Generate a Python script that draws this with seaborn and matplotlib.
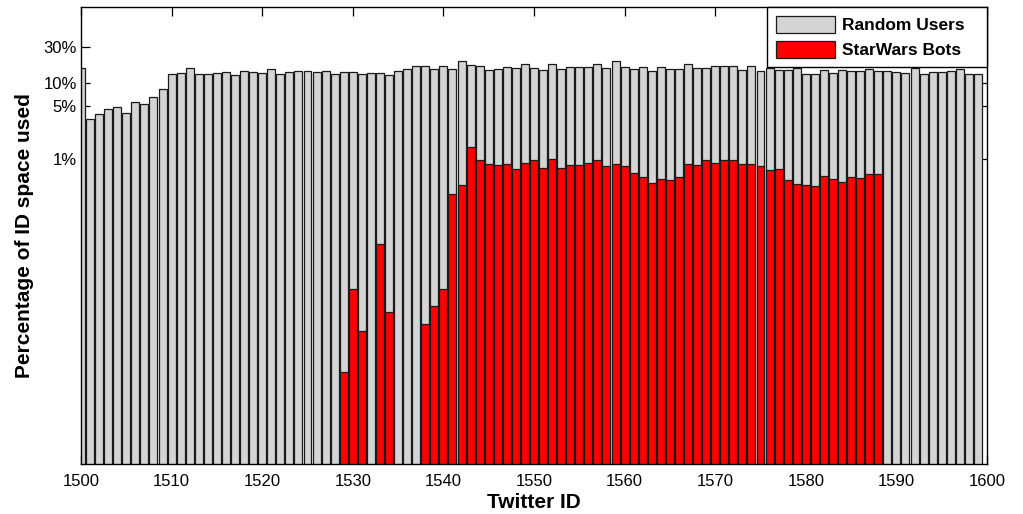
import pandas as pd
import seaborn as sns
import matplotlib
matplotlib.use('Agg')
import matplotlib.pyplot as plt
from matplotlib.patches import Patch
from matplotlib.ticker import FixedLocator, NullLocator

# Twitter ID buckets and percentage of each ID space in use
twitter_ids = list(range(1500, 1600))
random_users = [
    15.6, 3.35, 3.93, 4.53, 4.90, 4.09, 5.60, 5.37, 6.51, 8.37,
    13.0, 13.4, 15.6, 13.0, 13.0, 13.6, 13.9, 12.7, 14.5, 13.9,
    13.6, 15.2, 13.3, 14.0, 14.3, 14.4, 13.9, 14.4, 13.0, 13.9,
    13.9, 13.0, 13.8, 13.6, 12.9, 14.6, 15.5, 16.6, 16.6, 15.2,
    16.9, 15.2, 19.3, 17.5, 17.0, 14.9, 15.2, 16.3, 15.8, 17.7,
    15.8, 14.9, 18.0, 15.5, 16.4, 16.4, 16.4, 18.0, 15.9, 19.7,
    16.4, 15.5, 16.4, 14.3, 16.1, 15.5, 15.5, 17.8, 15.6, 15.9,
    16.9, 16.9, 16.6, 14.9, 16.9, 14.4, 15.9, 14.9, 14.9, 15.9,
    13.0, 13.3, 14.7, 13.7, 15.0, 14.5, 14.5, 15.3, 14.5, 14.5,
    14.0, 13.6, 15.8, 13.0, 13.9, 13.9, 14.5, 15.3, 13.0, 13.0,
]

starwars_ids = list(range(1529, 1589))
starwars_bots = [
    0.00163, 0.0197, 0.0055, 0, 0.0769, 0.00997, 0, 0, 0, 0.00694,
    0.0118, 0.0196, 0.348, 0.466, 1.46, 0.98, 0.876, 0.85, 0.86, 0.739,
    0.886, 0.98, 0.78, 1.0, 0.769, 0.85, 0.85, 0.902, 0.98, 0.81,
    0.86, 0.817, 0.655, 0.58, 0.484, 0.547, 0.535, 0.58, 0.87, 0.834,
    0.97, 0.894, 0.97, 0.97, 0.87, 0.87, 0.81, 0.73, 0.74, 0.53,
    0.47, 0.464, 0.446, 0.609, 0.547, 0.499, 0.591, 0.568, 0.636, 0.647,
]

y_ticks = [1, 5, 10, 30]
y_tick_labels = ['1%', '5%', '10%', '30%']
x_ticks = list(range(1500, 1601, 10))

gray = '#d4d4d4'
red = '#ff0000'
edge = '#1a1a1a'

sns.set_style('white')
plt.rcParams['font.family'] = ['Liberation Sans', 'DejaVu Sans']
plt.rcParams['text.color'] = 'black'
plt.rcParams['axes.labelcolor'] = 'black'
plt.rcParams['xtick.color'] = 'black'
plt.rcParams['ytick.color'] = 'black'

df_users = pd.DataFrame({'id': twitter_ids, 'pct': random_users})
df_bots = pd.DataFrame({'id': starwars_ids, 'pct': starwars_bots})
df_bots = df_bots[df_bots['pct'] > 0]

fig = plt.figure(figsize=(10.23, 5.14), dpi=100)
ax = fig.add_axes([81 / 1023, 50 / 514, 906 / 1023, 457 / 514])
ax.set_yscale('log')

sns.barplot(data=df_users, x='id', y='pct', native_scale=True, width=0.88,
            color=gray, saturation=1, edgecolor=edge, linewidth=0.9,
            errorbar=None, ax=ax)
sns.barplot(data=df_bots, x='id', y='pct', native_scale=True, width=0.88,
            color=red, saturation=1, edgecolor=edge, linewidth=0.9,
            errorbar=None, ax=ax)

ax.set_xlim(1500, 1600)
ax.set_ylim(1e-4, 100)
ax.xaxis.set_major_locator(FixedLocator(x_ticks))
ax.set_xticklabels([str(t) for t in x_ticks])
ax.yaxis.set_major_locator(FixedLocator(y_ticks))
ax.yaxis.set_minor_locator(NullLocator())
ax.set_yticklabels(y_tick_labels)
ax.tick_params(axis='both', which='major', direction='in', length=6.5,
               width=0.9, colors='black', labelsize=12, top=True, right=True,
               bottom=True, left=True)
ax.tick_params(axis='y', pad=3)
ax.tick_params(axis='x', pad=7)
for s in ax.spines.values():
    s.set_visible(True)
    s.set_color('black')
    s.set_linewidth(1.0)

ax.set_xlabel('Twitter ID', fontsize=15, fontweight='bold', labelpad=3)
ax.set_ylabel('Percentage of ID space used', fontsize=15, fontweight='bold',
              labelpad=7)

handles = [Patch(facecolor=gray, edgecolor=edge, linewidth=0.9),
           Patch(facecolor=red, edgecolor=edge, linewidth=0.9)]
leg = ax.legend(handles, ['Random Users', 'StarWars Bots'], loc='upper right',
                bbox_to_anchor=(686 / 906, 0, 220 / 906, 1.0), mode='expand',
                borderaxespad=0, fancybox=False,
                framealpha=1, edgecolor='black',
                prop={'weight': 'bold', 'size': 12.5},
                handlelength=3.4, handleheight=1.15, labelspacing=0.45,
                handletextpad=0.4, borderpad=0.5)
leg.get_frame().set_linewidth(1.0)
leg.set_zorder(10)

fig.savefig('out.png', dpi=100)
